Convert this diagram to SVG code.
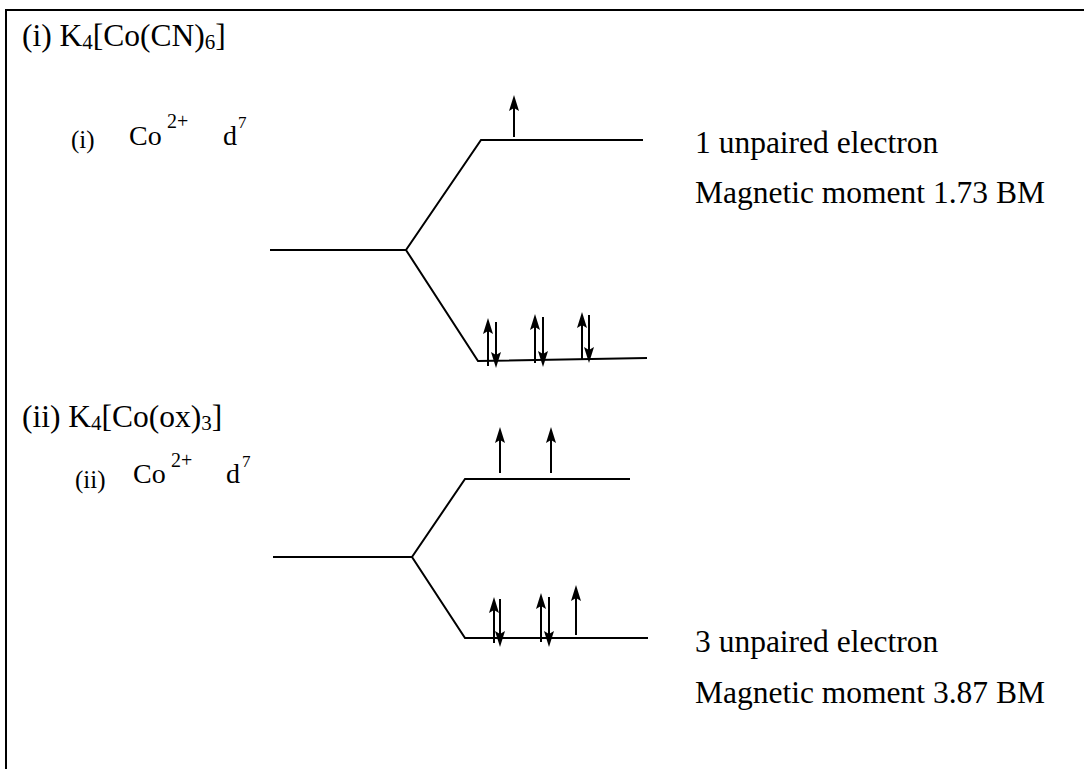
<svg xmlns="http://www.w3.org/2000/svg" width="1084" height="769" viewBox="0 0 1084 769">
<style>
text{font-family:"Liberation Serif","Times New Roman",serif;fill:#000}
.t{font-size:31.5px}
.s{font-size:28px}
.p{font-size:25px}
.sup{font-size:20px}
.ln{fill:none;stroke:#000;stroke-width:2;stroke-linejoin:miter}
.ar{stroke:#000;stroke-width:2;marker-end:url(#ah)}
</style>
<defs>
<marker id="ah" viewBox="0 0 16 10" markerWidth="16" markerHeight="10" refX="6" refY="5" orient="auto" markerUnits="userSpaceOnUse">
<path d="M0,0 L16,5 L0,10 L3,5 Z" fill="#000"/>
</marker>
</defs>
<rect width="1084" height="769" fill="#fff"/>
<g id="frame">
<path class="ln" d="M6,769 L6,10 L1084,10"/>
</g>
<g id="complex1">
<text class="t" x="22" y="46">(i) K<tspan font-size="21" dy="3">4</tspan><tspan dy="-3">[Co(CN)</tspan><tspan font-size="21" dy="3">6</tspan><tspan dy="-3">]</tspan></text>
<text class="p" x="71" y="148">(i)</text>
<text class="s" x="129" y="145">Co</text>
<text class="sup" x="167" y="128">2+</text>
<text class="s" x="223" y="145">d</text>
<text x="238" y="128" font-size="17">7</text>
<text class="t" x="695" y="153">1 unpaired electron</text>
<text class="t" x="695" y="203">Magnetic moment 1.73 BM</text>
</g>
<g id="complex2">
<text class="t" x="22" y="427">(ii) K<tspan font-size="21" dy="3">4</tspan><tspan dy="-3">[Co(ox)</tspan><tspan font-size="21" dy="3">3</tspan><tspan dy="-3">]</tspan></text>
<text class="p" x="75" y="488">(ii)</text>
<text class="s" x="133" y="483">Co</text>
<text class="sup" x="171" y="467">2+</text>
<text class="s" x="226" y="483">d</text>
<text x="242" y="467" font-size="17">7</text>
<text class="t" x="695" y="652">3 unpaired electron</text>
<text class="t" x="695" y="703">Magnetic moment 3.87 BM</text>
</g>
<g id="connectors">
<path class="ln" d="M270,250 L406,250 M643,140 L481,140 L406,250 L478,361 L647,358"/>
<line class="ar" x1="514" y1="137" x2="514" y2="105"/>
<line class="ar" x1="488" y1="366" x2="488" y2="328"/>
<line class="ar" x1="496" y1="322" x2="496" y2="358"/>
<line class="ar" x1="535" y1="363" x2="535" y2="324"/>
<line class="ar" x1="543" y1="317" x2="543" y2="357"/>
<line class="ar" x1="582" y1="359" x2="582" y2="322"/>
<line class="ar" x1="589" y1="315" x2="589" y2="353"/>
<path class="ln" d="M273,557 L412,557 M630,479 L465,479 L412,557 L465,638 L648,638"/>
<line class="ar" x1="500" y1="473" x2="500" y2="437"/>
<line class="ar" x1="551" y1="473" x2="551" y2="437"/>
<line class="ar" x1="494" y1="643" x2="494" y2="607"/>
<line class="ar" x1="500" y1="599" x2="500" y2="637"/>
<line class="ar" x1="541" y1="642" x2="541" y2="603"/>
<line class="ar" x1="549" y1="597" x2="549" y2="637"/>
<line class="ar" x1="576" y1="635" x2="576" y2="595"/>
</g>
</svg>
